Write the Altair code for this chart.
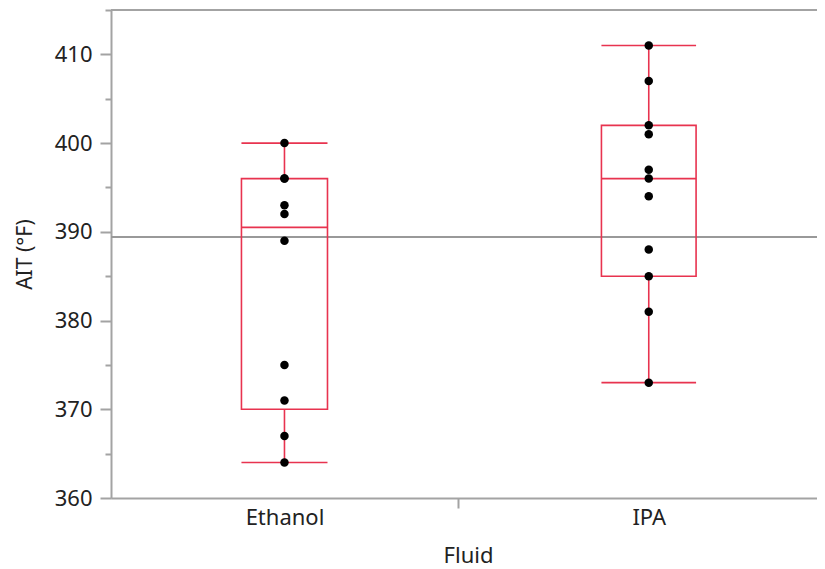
import altair as alt
import numpy as np
import pandas as pd

# ---- data ----
fluids = ["Ethanol", "IPA"]
ethanol_ait = [400, 396, 396, 393, 392, 389, 375, 371, 367, 364]
ipa_ait = [411, 407, 402, 401, 397, 396, 394, 388, 385, 381, 373]
y_ticks = list(range(360, 416, 5))
Y_DOMAIN = [360, 415]

# ---- style ----
RED = "#E8334F"
AXIS_GREY = "#A3A3A3"
MEAN_GREY = "#999999"
FONT = "Noto Sans"
BOX_FRAC = 0.248
X_MAX = 20.58

groups = {"Ethanol": ethanol_ait, "IPA": ipa_ait}

pts_rows, box_rows = [], []
start = 0
for f in fluids:
    vals = np.array(groups[f], dtype=float)
    n = len(vals)
    center = start + n / 2
    half = n * BOX_FRAC / 2
    q1, med, q3 = np.quantile(vals, [0.25, 0.5, 0.75], method="weibull")
    iqr = q3 - q1
    whi = vals[vals <= q3 + 1.5 * iqr].max()
    wlo = vals[vals >= q1 - 1.5 * iqr].min()
    box_rows.append(dict(Fluid=f, start=start, end=start + n, center=center,
                         lo=center - half, hi=center + half,
                         q1=q1, med=med, q3=q3, wlo=wlo, whi=whi))
    for v in vals:
        pts_rows.append(dict(Fluid=f, AIT=v, center=center))
    start += n

pts = pd.DataFrame(pts_rows)
box = pd.DataFrame(box_rows)

centers = list(box["center"])
boundaries = list(box["end"])[:-1]
label_expr = " : ".join(
    [f"datum.value === {c} ? '{f}'" for c, f in zip(centers, box["Fluid"])] + ["''"]
)
bnd_test = " || ".join([f"datum.value === {b}" for b in boundaries])

xs = alt.Scale(domain=[0, X_MAX], nice=False, zero=False)
ys = alt.Scale(domain=Y_DOMAIN, nice=False, zero=False)

y_axis = alt.Axis(
    values=y_ticks, grid=False,
    labelExpr="datum.value % 10 === 0 ? datum.label : ''",
    tickSize={"condition": {"test": "datum.value % 10 === 0", "value": 11}, "value": 6},
    tickColor=AXIS_GREY, tickWidth=2,
    domainColor=AXIS_GREY, domainWidth=2,
    labelFont=FONT, labelFontSize=22, labelColor="#222222", labelPadding=8,
    title="AIT (°F)", titleFont=FONT, titleFontSize=21, titleFontWeight="normal",
    titleColor="#222222", titlePadding=19,
)

x_axis_bottom = alt.Axis(
    values=centers + boundaries, grid=False,
    labelExpr=label_expr,
    tickOpacity={"condition": {"test": bnd_test, "value": 1}, "value": 0},
    tickSize=10, tickColor=AXIS_GREY, tickWidth=2,
    domainColor=AXIS_GREY, domainWidth=2,
    labelFont=FONT, labelFontSize=22, labelColor="#222222", labelPadding=-1,
    labelFlush=False, labelOverlap=False,
    title="Fluid", titleFont=FONT, titleFontSize=22, titleFontWeight="normal",
    titleColor="#222222", titlePadding=17,
)

base_pts = alt.Chart(pts)
base_box = alt.Chart(box)

points = base_pts.mark_circle(size=72, color="black", opacity=1).encode(
    x=alt.X("center:Q", scale=xs, axis=x_axis_bottom),
    y=alt.Y("AIT:Q", scale=ys, axis=y_axis),
)

top_frame = base_pts.mark_rule(color=AXIS_GREY, strokeWidth=2).encode(
    y=alt.datum(Y_DOMAIN[1])
)

mean_line = base_pts.mark_rule(color=MEAN_GREY, strokeWidth=2).encode(
    y=alt.Y("mean(AIT):Q")
)

boxes = base_box.mark_rect(fillOpacity=0, stroke=RED, strokeWidth=1.6).encode(
    x="lo:Q", x2="hi:Q", y="q1:Q", y2="q3:Q",
)
medians = base_box.mark_rule(color=RED, strokeWidth=1.6).encode(
    x="lo:Q", x2="hi:Q", y="med:Q",
)
whisk_up = base_box.mark_rule(color=RED, strokeWidth=1.6).encode(
    x="center:Q", y="q3:Q", y2="whi:Q",
)
whisk_dn = base_box.mark_rule(color=RED, strokeWidth=1.6).encode(
    x="center:Q", y="q1:Q", y2="wlo:Q",
)
cap_up = base_box.mark_rule(color=RED, strokeWidth=1.6).encode(
    x="lo:Q", x2="hi:Q", y="whi:Q",
)
cap_dn = base_box.mark_rule(color=RED, strokeWidth=1.6).encode(
    x="lo:Q", x2="hi:Q", y="wlo:Q",
)

chart = alt.layer(
    top_frame, mean_line, boxes, medians, whisk_up, whisk_dn, cap_up, cap_dn, points
).properties(
    width=714, height=488,
    padding={"left": 103, "top": 2, "right": -8, "bottom": 70},
    autosize=alt.AutoSizeParams(type="none"),
).configure_view(stroke=None).configure(background="white")

chart.save("out.html", embed_options={"renderer": "svg", "actions": False})
